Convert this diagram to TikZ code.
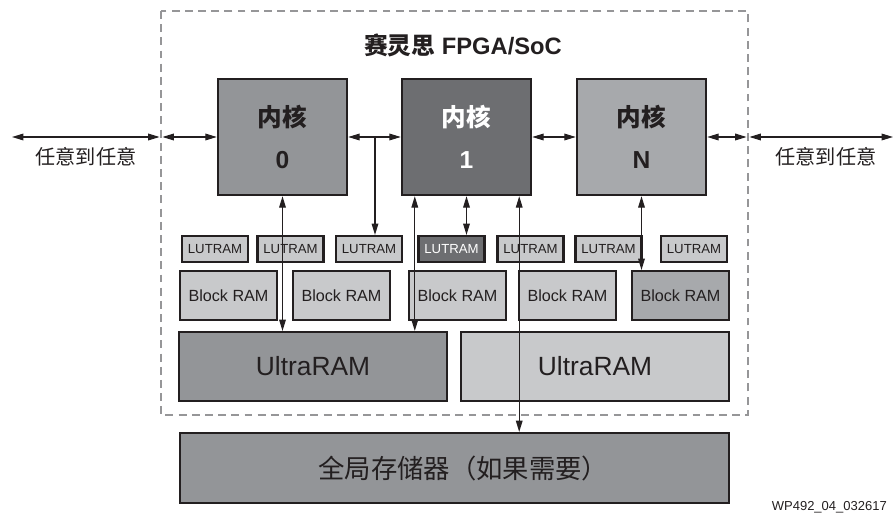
\documentclass[tikz,border=0pt]{standalone}
\usepackage{fontspec}
\setmainfont{Liberation Sans}
\newfontfamily\cjk{Noto Sans CJK SC}
\usetikzlibrary{positioning, arrows.meta}
\definecolor{LineColor}{RGB}{35,31,32}
\definecolor{CoreMid}{RGB}{147,149,152}
\definecolor{CoreDark}{RGB}{109,110,113}
\definecolor{CoreLight}{RGB}{167,169,172}
\definecolor{RamLight}{RGB}{200,201,203}
\definecolor{FrameGray}{RGB}{150,150,152}
\tikzstyle{core} = [draw=LineColor, line width=1.4pt, minimum width=2.58cm, minimum height=2.32cm, inner sep=0pt, align=center, text=LineColor, font=\fontsize{14}{24}\selectfont\bfseries]
\tikzstyle{lut} = [draw=LineColor, line width=1.2pt, fill=RamLight, text=LineColor, minimum width=1.32cm, minimum height=0.52cm, inner sep=0pt, font=\fontsize{7.5}{9}\selectfont]
\tikzstyle{bram} = [draw=LineColor, line width=1.2pt, fill=RamLight, text=LineColor, minimum width=1.94cm, minimum height=0.98cm, inner sep=0pt, font=\fontsize{9.2}{11}\selectfont]
\tikzstyle{uram} = [draw=LineColor, line width=1.2pt, text=LineColor, minimum width=5.36cm, minimum height=1.38cm, inner sep=0pt, font=\fontsize{15}{18}\selectfont]
\tikzstyle{arrow} = [line width=0.65pt, LineColor, -{Triangle[length=6.5pt,width=3.8pt]}]
\tikzstyle{dblarrow} = [arrow, {Triangle[length=6.5pt,width=3.8pt]}-{Triangle[length=6.5pt,width=3.8pt]}]

\begin{document}
\begin{tikzpicture}[x=0.02cm, y=-0.02cm]
  \useasboundingbox (0,0) rectangle (896,517);

  % FPGA frame
  \draw[FrameGray, line width=0.7pt, dash pattern=on 4.5pt off 3pt] (161,11) rectangle (748,415);
  \node (title) at (463,45) {\fontsize{13.5}{15}\selectfont\bfseries\color{LineColor}{\cjk 赛灵思} FPGA/SoC};
  \coordinate (fpgaW) at (161,137);
  \coordinate (fpgaE) at (748,137);
  \coordinate (anyW) at (12,137);
  \coordinate (anyE) at (893,137);
  \node[text=LineColor, font=\fontsize{11.5}{13}\selectfont\cjk] (anyWlabel) at (86,157) {任意到任意};
  \node[text=LineColor, font=\fontsize{11.5}{13}\selectfont\cjk] (anyElabel) at (826,157) {任意到任意};

  % Cores
  \node[core, fill=CoreMid] (core0) at (282.5,137) {{\cjk 内核}\\0};
  \node[core, fill=CoreDark, text=white] (core1) at (466.5,137) {{\cjk 内核}\\1};
  \node[core, fill=CoreLight] (coreN) at (641.5,137) {{\cjk 内核}\\N};

  % LUTRAM row
  \node[lut] (lut1) at (215,249) {LUTRAM};
  \node[lut] (lut2) at (290.5,249) {LUTRAM};
  \node[lut] (lut3) at (369,249) {LUTRAM};
  \node[lut, fill=CoreDark, text=white] (lut4) at (451.5,249) {LUTRAM};
  \node[lut] (lut5) at (530.5,249) {LUTRAM};
  \node[lut] (lut6) at (608.5,249) {LUTRAM};
  \node[lut] (lut7) at (694,249) {LUTRAM};

  % Block RAM row
  \node[bram] (bram1) at (228.5,295.5) {Block RAM};
  \node[bram] (bram2) at (341.5,295.5) {Block RAM};
  \node[bram] (bram3) at (457.5,295.5) {Block RAM};
  \node[bram] (bram4) at (567.5,295.5) {Block RAM};
  \node[bram, fill=CoreLight] (bram5) at (680.5,295.5) {Block RAM};

  % UltraRAM and global memory
  \node[uram, fill=CoreMid] (uram1) at (313,366.5) {UltraRAM};
  \node[uram, fill=RamLight] (uram2) at (595,366.5) {UltraRAM};
  \node[uram, fill=CoreMid, minimum width=10.98cm, minimum height=1.4cm, font=\fontsize{15}{17}\selectfont\cjk] (global) at (454.5,468) {\hspace*{10pt}全局存储器（如果需要）};

  \node[anchor=east, text=LineColor, font=\fontsize{7.4}{9}\selectfont] (figid) at (893,507) {WP492\_04\_032617};

  % Any-to-any links
  \draw[dblarrow, shorten >=0.8pt] (anyW) -- (fpgaW);
  \draw[dblarrow, shorten <=0.8pt] (fpgaW) -- (core0.west);
  \draw[dblarrow] (core0.east) -- (core1.west);
  \draw[dblarrow] (core1.east) -- (coreN.west);
  \draw[dblarrow, shorten >=0.8pt] (coreN.east) -- (fpgaE);
  \draw[dblarrow, shorten <=0.8pt] (fpgaE) -- (anyE);
  \coordinate (tap) at (375,137);
  \draw[arrow] (tap) -- (tap |- lut3.north);

  % Memory links
  \draw[dblarrow] (core0.south) -- (core0.south |- uram1.north);
  \draw[dblarrow] ([xshift=0.28cm]core1.south west) -- ([xshift=0.28cm]core1.south west |- uram1.north);
  \draw[dblarrow] (core1.south) -- (core1.south |- lut4.north);
  \draw[dblarrow] ([xshift=-0.26cm]core1.south east) -- ([xshift=-0.26cm]core1.south east |- global.north);
  \draw[dblarrow] (coreN.south) -- (coreN.south |- bram5.north);
\end{tikzpicture}
\end{document}
